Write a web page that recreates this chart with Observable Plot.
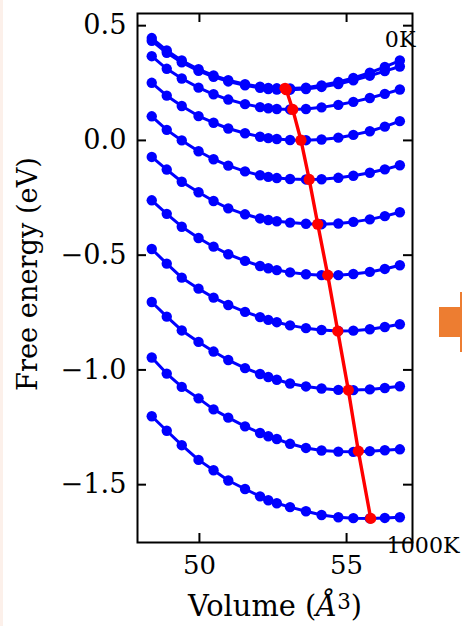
<!DOCTYPE html>
<html>
<head>
<meta charset="utf-8">
<script src="https://cdn.jsdelivr.net/npm/d3@7"></script>
<script src="https://cdn.jsdelivr.net/npm/@observablehq/plot@0.6"></script>
<style>
  html, body { margin: 0; padding: 0; background: #fff; }
  #wrap { position: relative; width: 462px; height: 626px; overflow: hidden; }
  #wrap svg { position: absolute; left: 0; top: 0; overflow: visible; }
  .deco { position: absolute; }
</style>
</head>
<body>
<div id="wrap"></div>
<script>
// ---- data ----
const volumes = [48.38, 48.89, 49.40, 49.97, 50.48, 50.98, 51.55, 52.06, 52.34, 52.63, 53.08, 53.62, 54.15, 54.72, 55.23, 55.79, 56.30, 56.81];
const temperatures = ["0K","100K","200K","300K","400K","500K","600K","700K","800K","900K","1000K"];
const F_0K    = [0.446, 0.392, 0.348, 0.310, 0.283, 0.262, 0.245, 0.234, 0.229, 0.227, 0.226, 0.230, 0.240, 0.255, 0.272, 0.295, 0.320, 0.348];
const F_100K  = [0.434, 0.382, 0.340, 0.303, 0.277, 0.257, 0.240, 0.229, 0.224, 0.222, 0.221, 0.224, 0.233, 0.246, 0.262, 0.282, 0.302, 0.322];
const F_200K  = [0.367, 0.312, 0.270, 0.230, 0.201, 0.178, 0.158, 0.145, 0.140, 0.137, 0.135, 0.137, 0.144, 0.155, 0.168, 0.185, 0.203, 0.222];
const F_300K  = [0.251, 0.195, 0.150, 0.106, 0.077, 0.052, 0.031, 0.016, 0.010, 0.006, 0.002, 0.001, 0.004, 0.012, 0.024, 0.040, 0.060, 0.084];
const F_400K  = [0.105, 0.046, 0.000, -0.047, -0.082, -0.110, -0.135, -0.152, -0.159, -0.164, -0.168, -0.170, -0.169, -0.163, -0.154, -0.141, -0.126, -0.108];
const F_500K  = [-0.072, -0.127, -0.180, -0.226, -0.264, -0.296, -0.322, -0.340, -0.347, -0.352, -0.358, -0.363, -0.365, -0.362, -0.355, -0.344, -0.330, -0.313];
const F_600K  = [-0.261, -0.320, -0.376, -0.425, -0.463, -0.496, -0.525, -0.547, -0.557, -0.565, -0.575, -0.583, -0.587, -0.587, -0.582, -0.573, -0.560, -0.544];
const F_700K  = [-0.473, -0.537, -0.598, -0.646, -0.685, -0.717, -0.747, -0.770, -0.782, -0.792, -0.806, -0.818, -0.826, -0.830, -0.829, -0.823, -0.813, -0.801];
const F_800K  = [-0.704, -0.768, -0.828, -0.878, -0.920, -0.957, -0.992, -1.018, -1.031, -1.043, -1.059, -1.072, -1.081, -1.087, -1.088, -1.085, -1.079, -1.071];
const F_900K  = [-0.946, -1.016, -1.074, -1.124, -1.172, -1.208, -1.246, -1.275, -1.289, -1.301, -1.322, -1.340, -1.351, -1.356, -1.357, -1.354, -1.350, -1.346];
const F_1000K = [-1.202, -1.265, -1.328, -1.392, -1.437, -1.482, -1.519, -1.551, -1.568, -1.581, -1.598, -1.616, -1.632, -1.642, -1.646, -1.647, -1.645, -1.642];
const minVolume = [52.91, 52.95, 53.17, 53.45, 53.73, 54.02, 54.36, 54.70, 55.06, 55.40, 55.82];
const minEnergy = [0.227, 0.221, 0.135, 0.001, -0.170, -0.365, -0.587, -0.831, -1.088, -1.354, -1.647];
const xTicks = [50, 55];
const yTicks = [0.5, 0.0, -0.5, -1.0, -1.5];
const endLabels = ["0K", "1000K"];
const endLabelVolume = [56.30, 56.36];
const endLabelEnergy = [0.438, -1.765];

// ---- build tables ----
const seriesList = [F_0K, F_100K, F_200K, F_300K, F_400K, F_500K, F_600K, F_700K, F_800K, F_900K, F_1000K];
const curves = [];
seriesList.forEach((s, i) => s.forEach((f, j) => curves.push({T: temperatures[i], V: volumes[j], F: f})));
const minima = minVolume.map((v, i) => ({V: v, F: minEnergy[i]}));
const labels = endLabels.map((t, i) => ({t, V: endLabelVolume[i], F: endLabelEnergy[i]}));

const W = 462, H = 626, mT = 13, mB = 84, mL = 137, mR = 50;
const innerH = H - mT - mB, innerW = W - mL - mR, tl = 9;
const font = "'DejaVu Serif', 'Liberation Serif', serif";
const xLabelText = "Volume (Å3)";
const yLabelText = "Free energy (eV)";

const svg = Plot.plot({
  width: W, height: H,
  marginTop: mT, marginBottom: mB, marginLeft: mL, marginRight: mR,
  style: {fontFamily: font, background: "transparent", color: "#000"},
  x: {domain: [47.896, 57.24]},
  y: {domain: [-1.752, 0.553]},
  marks: [
    Plot.axisX(xTicks, {tickSize: 0, tickPadding: 13, fontSize: 25, label: null, tickFormat: d3.format("d")}),
    Plot.axisY(yTicks, {tickSize: 0, tickPadding: 11, fontSize: 25, label: null, tickFormat: d3.format(".1f")}),
    Plot.line(curves, {x: "V", y: "F", z: "T", stroke: "#0000ff", strokeWidth: 3}),
    Plot.dot(curves, {x: "V", y: "F", r: 5.2, fill: "#0000ff", stroke: "none"}),
    Plot.line(minima, {x: "V", y: "F", stroke: "#ff0000", strokeWidth: 3.4}),
    Plot.dot(minima, {x: "V", y: "F", r: 5.6, fill: "#ff0000", stroke: "none"}),
    Plot.ruleX(xTicks, {insetTop: innerH - tl, stroke: "#000", strokeWidth: 2}),
    Plot.ruleX(xTicks, {insetBottom: innerH - tl, stroke: "#000", strokeWidth: 2}),
    Plot.ruleY(yTicks, {insetRight: innerW - tl, stroke: "#000", strokeWidth: 2}),
    Plot.ruleY(yTicks, {insetLeft: innerW - tl, stroke: "#000", strokeWidth: 2}),
    Plot.frame({stroke: "#000", strokeWidth: 2}),
    Plot.text(labels, {x: "V", y: "F", text: "t", textAnchor: "start", lineAnchor: "middle", fontSize: 20, fill: "#000"}),
    Plot.text([yLabelText], {frameAnchor: "left", textAnchor: "middle", dx: -109, dy: -4, rotate: -90, fontSize: 30, lineAnchor: "middle", fill: "#000"}),
    Plot.text([xLabelText], {frameAnchor: "bottom", textAnchor: "middle", dy: 64, fontSize: 30, lineAnchor: "middle", fill: "#000"})
  ]
});

// italic Å and superscript 3 in the x label
const allText = () => Array.from(svg.querySelectorAll("text"));
const xl = allText().find(t => t.textContent === xLabelText);
if (xl) {
  xl.textContent = "";
  const ns = "http://www.w3.org/2000/svg";
  const parts = [["Volume (", {}], ["Å", {"font-style": "italic"}], ["3", {"font-size": "0.74em", "dy": "-0.33em"}], [")", {"dy": "0.245em"}]];
  for (const [t, attrs] of parts) {
    const ts = document.createElementNS(ns, "tspan");
    ts.textContent = t;
    for (const k in attrs) ts.setAttribute(k, attrs[k]);
    xl.appendChild(ts);
  }
}

const wrap = document.getElementById("wrap");
wrap.appendChild(svg);

// size texts so their extents match the reference
function fit(el, target, group) {
  if (!el) return;
  const len = el.getComputedTextLength();
  if (!len) return;
  const fs = parseFloat(getComputedStyle(el).fontSize);
  const nfs = (fs * target / len).toFixed(2) + "px";
  (group || [el]).forEach(e => e.style.fontSize = nfs);
}
const yl = allText().find(t => t.textContent === yLabelText);
fit(yl, 234);
fit(xl, 174);
const yTickTexts = Array.from(svg.querySelectorAll('g[aria-label="y-axis tick label"] text'));
fit(yTickTexts.find(t => t.textContent === "−0.5"), 66, yTickTexts);
const xTickTexts = Array.from(svg.querySelectorAll('g[aria-label="x-axis tick label"] text'));
fit(xTickTexts.find(t => t.textContent === "50"), 33, xTickTexts);
const endTexts = allText().filter(t => endLabels.includes(t.textContent));
fit(endTexts.find(t => t.textContent === "1000K"), 73, endTexts);

// neighbouring-figure fragments visible at the edges of the reference
const decos = [
  {l: 439, t: 307, w: 21, h: 30, c: "#ED7D31"},
  {l: 460, t: 292, w: 2, h: 60, c: "#ED7D31"},
  {l: 0, t: 0, w: 3, h: 626, c: "#fcf0ea"}
];
for (const d of decos) {
  const el = document.createElement("div");
  el.className = "deco";
  Object.assign(el.style, {left: d.l + "px", top: d.t + "px", width: d.w + "px", height: d.h + "px", background: d.c});
  wrap.appendChild(el);
}
</script>
</body>
</html>
